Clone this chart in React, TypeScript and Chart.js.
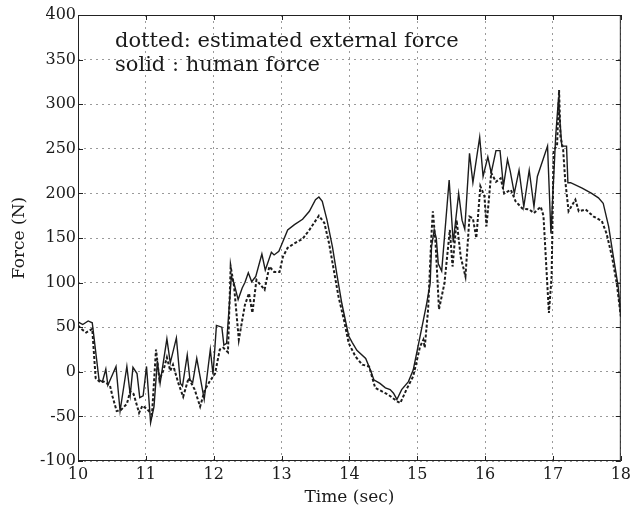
import React, { useEffect, useRef } from "react";
import { Chart, registerables } from "chart.js";

Chart.register(...registerables);

const solidTime = [
  10.0, 10.07, 10.15, 10.21, 10.31, 10.36, 10.41, 10.44, 10.56, 10.62, 10.72, 10.77, 10.81, 10.87, 10.91, 10.96,
  11.01, 11.07, 11.12, 11.17, 11.21, 11.31, 11.36, 11.45, 11.51, 11.54, 11.61, 11.65, 11.69, 11.75, 11.86, 11.95,
  11.99, 12.04, 12.12, 12.15, 12.19, 12.26, 12.3, 12.36, 12.42, 12.46, 12.51, 12.56, 12.62, 12.71, 12.76, 12.85,
  12.89, 12.96, 13.02, 13.09, 13.19, 13.31, 13.41, 13.5, 13.55, 13.6, 13.67, 13.75, 13.82, 13.89, 13.99, 14.04,
  14.11, 14.24, 14.31, 14.36, 14.45, 14.53, 14.6, 14.65, 14.7, 14.77, 14.87, 14.94, 15.01, 15.09, 15.14, 15.19,
  15.21, 15.25, 15.28, 15.31, 15.36, 15.47, 15.53, 15.61, 15.66, 15.7, 15.77, 15.82, 15.92, 15.97, 16.04, 16.09,
  16.16, 16.22, 16.27, 16.33, 16.37, 16.43, 16.5, 16.57, 16.65, 16.72, 16.77, 16.92, 16.97, 17.04, 17.08, 17.13,
  17.2, 17.22, 17.26, 17.43, 17.57, 17.67, 17.74, 17.82, 17.89, 17.96, 18.0,
];
const solidForce = [
  56, 53, 57, 55, -9, -11, 3, -15, 6, -44, 6, -26, 5, -2, -29, -27,
  6, -57, -39, 12, -13, 37, 10, 38, -13, -16, 19, -9, -12, 15, -31, 25,
  -3, 52, 50, 30, 32, 107, 99, 81, 94, 100, 111, 101, 107, 132, 114, 134,
  131, 135, 146, 159, 165, 171, 180, 193, 196, 191, 170, 140, 107, 76, 40, 33,
  24, 15, 2, -9, -13, -18, -20, -24, -31, -20, -11, 2, 28, 58, 77, 99,
  140, 159, 150, 121, 113, 215, 145, 200, 170, 160, 245, 212, 263, 219, 241, 223,
  248, 248, 208, 238, 225, 200, 226, 185, 226, 185, 219, 253, 155, 264, 305, 253,
  253, 212, 212, 206, 200, 195, 189, 163, 129, 96, 62,
];

const dottedTime = [
  10.0, 10.05, 10.12, 10.21, 10.26, 10.33, 10.38, 10.47, 10.51, 10.57, 10.63, 10.72, 10.77, 10.82, 10.9, 10.95,
  11.02, 11.09, 11.15, 11.2, 11.26, 11.31, 11.36, 11.4, 11.48, 11.55, 11.63, 11.72, 11.8, 11.87, 11.94, 12.02,
  12.09, 12.14, 12.21, 12.25, 12.3, 12.37, 12.46, 12.52, 12.57, 12.63, 12.75, 12.82, 12.89, 12.97, 13.02, 13.09,
  13.19, 13.31, 13.41, 13.55, 13.63, 13.7, 13.77, 13.84, 13.92, 13.99, 14.09, 14.19, 14.29, 14.38, 14.48, 14.58,
  14.7, 14.75, 14.84, 14.94, 15.04, 15.09, 15.11, 15.16, 15.21, 15.23, 15.27, 15.32, 15.4, 15.48, 15.52, 15.58,
  15.64, 15.71, 15.77, 15.82, 15.87, 15.93, 15.99, 16.02, 16.09, 16.16, 16.23, 16.28, 16.38, 16.45, 16.55, 16.65,
  16.72, 16.82, 16.86, 16.94, 16.98, 17.01, 17.06, 17.09, 17.11, 17.15, 17.18, 17.23, 17.33, 17.38, 17.48, 17.6,
  17.72, 17.79, 17.87, 17.94, 18.0,
];
const dottedForce = [
  52, 48, 44, 48, -7, -12, -11, -15, -28, -44, -43, -36, -22, -25, -46, -38,
  -42, -48, 25, -9, 2, 16, 1, 8, -13, -28, -7, -20, -39, -20, -11, -2,
  25, 27, 22, 118, 96, 36, 75, 88, 66, 103, 92, 118, 112, 112, 129, 139,
  144, 149, 159, 175, 167, 144, 114, 84, 58, 32, 17, 8, 6, -18, -22, -26,
  -33, -35, -20, -5, 28, 36, 27, 70, 155, 180, 144, 70, 99, 159, 118, 170,
  129, 107, 174, 172, 150, 208, 197, 163, 223, 213, 217, 200, 204, 191, 183, 182,
  178, 185, 175, 66, 107, 249, 253, 316, 264, 249, 215, 180, 193, 180, 182, 174,
  169, 155, 129, 99, 62,
];

const xTicks = [10, 11, 12, 13, 14, 15, 16, 17, 18];
const yTicks = [-100, -50, 0, 50, 100, 150, 200, 250, 300, 350, 400];
const legendLines = ["dotted: estimated external force", "solid : human force"];
const xTitle = "Time (sec)";
const yTitle = "Force (N)";

const FONT = "'DejaVu Serif', 'Liberation Serif', serif";

const framePlugin = {
  id: "frame",
  afterDraw(chart: any) {
    const { ctx, chartArea } = chart;
    const { left, right, top, bottom } = chartArea;
    const xs = chart.scales.x;
    const ys = chart.scales.y;
    ctx.save();
    ctx.strokeStyle = "#222";
    ctx.lineWidth = 1;
    ctx.strokeRect(left + 0.5, top + 0.5, right - left - 1, bottom - top - 1);
    ctx.beginPath();
    xTicks.forEach((t) => {
      const px = Math.round(xs.getPixelForValue(t)) + 0.5;
      ctx.moveTo(px, bottom);
      ctx.lineTo(px, bottom - 5);
      ctx.moveTo(px, top);
      ctx.lineTo(px, top + 5);
    });
    yTicks.forEach((v) => {
      const py = Math.round(ys.getPixelForValue(v)) + 0.5;
      ctx.moveTo(left, py);
      ctx.lineTo(left + 5, py);
      ctx.moveTo(right, py);
      ctx.lineTo(right - 5, py);
    });
    ctx.stroke();
    ctx.fillStyle = "#1a1a1a";
    ctx.font = `21px ${FONT}`;
    ctx.textAlign = "left";
    ctx.textBaseline = "alphabetic";
    ctx.fillText(legendLines[0], left + 37, top + 32);
    ctx.fillText(legendLines[1], left + 37, top + 56);
    ctx.restore();
  },
};

export default function App() {
  const canvasRef = useRef<HTMLCanvasElement | null>(null);

  useEffect(() => {
    const canvas = canvasRef.current;
    if (!canvas) return;
    const solidPts = solidTime.map((t, i) => ({ x: t, y: solidForce[i] }));
    const dottedPts = dottedTime.map((t, i) => ({ x: t, y: dottedForce[i] }));
    const chart = new Chart(canvas, {
      type: "line",
      data: {
        datasets: [
          {
            label: "estimated external force",
            data: dottedPts,
            borderColor: "#1c1c1c",
            borderWidth: 2,
            borderDash: [3, 2],
            pointRadius: 0,
            tension: 0,
            fill: false,
          },
          {
            label: "human force",
            data: solidPts,
            borderColor: "#1c1c1c",
            borderWidth: 1.4,
            pointRadius: 0,
            tension: 0,
            fill: false,
          },
        ],
      },
      options: {
        animation: false,
        responsive: false,
        maintainAspectRatio: false,
        layout: { padding: { top: 15, right: 11, left: 0, bottom: 0 } },
        plugins: { legend: { display: false }, tooltip: { enabled: false }, title: { display: false } },
        scales: {
          x: {
            type: "linear",
            min: 10,
            max: 18,
            afterFit(scale: any) {
              scale.height = 47;
            },
            afterBuildTicks(scale: any) {
              scale.ticks = xTicks.map((v) => ({ value: v }));
            },
            ticks: {
              color: "#1a1a1a",
              font: { family: FONT, size: 16 },
              padding: 4,
              maxRotation: 0,
              callback: (v: any) => String(v),
            },
            grid: { color: "#9a9a9a", lineWidth: 1, drawTicks: false },
            border: { display: false, dash: [2, 4] },
            title: {
              display: true,
              text: xTitle,
              color: "#1a1a1a",
              font: { family: FONT, size: 17, lineHeight: 1 },
              padding: { top: 0, bottom: 2 },
            },
          },
          y: {
            type: "linear",
            min: -100,
            max: 400,
            afterFit(scale: any) {
              scale.width = 78;
            },
            afterBuildTicks(scale: any) {
              scale.ticks = yTicks.map((v) => ({ value: v }));
            },
            ticks: {
              color: "#1a1a1a",
              font: { family: FONT, size: 16 },
              padding: 2,
              callback: (v: any) => String(v),
            },
            grid: { color: "#9a9a9a", lineWidth: 1, drawTicks: false },
            border: { display: false, dash: [2, 4] },
            title: {
              display: true,
              text: yTitle,
              color: "#1a1a1a",
              font: { family: FONT, size: 17, lineHeight: 1 },
              padding: { top: 11, bottom: 0 },
            },
          },
        },
      },
      plugins: [framePlugin],
    });
    return () => chart.destroy();
  }, []);

  return (
    <div style={{ position: "absolute", left: 0, top: 0, width: 635, height: 508, background: "#fff" }}>
      <canvas ref={canvasRef} width={635} height={508} style={{ width: 635, height: 508, display: "block" }} />
    </div>
  );
}
